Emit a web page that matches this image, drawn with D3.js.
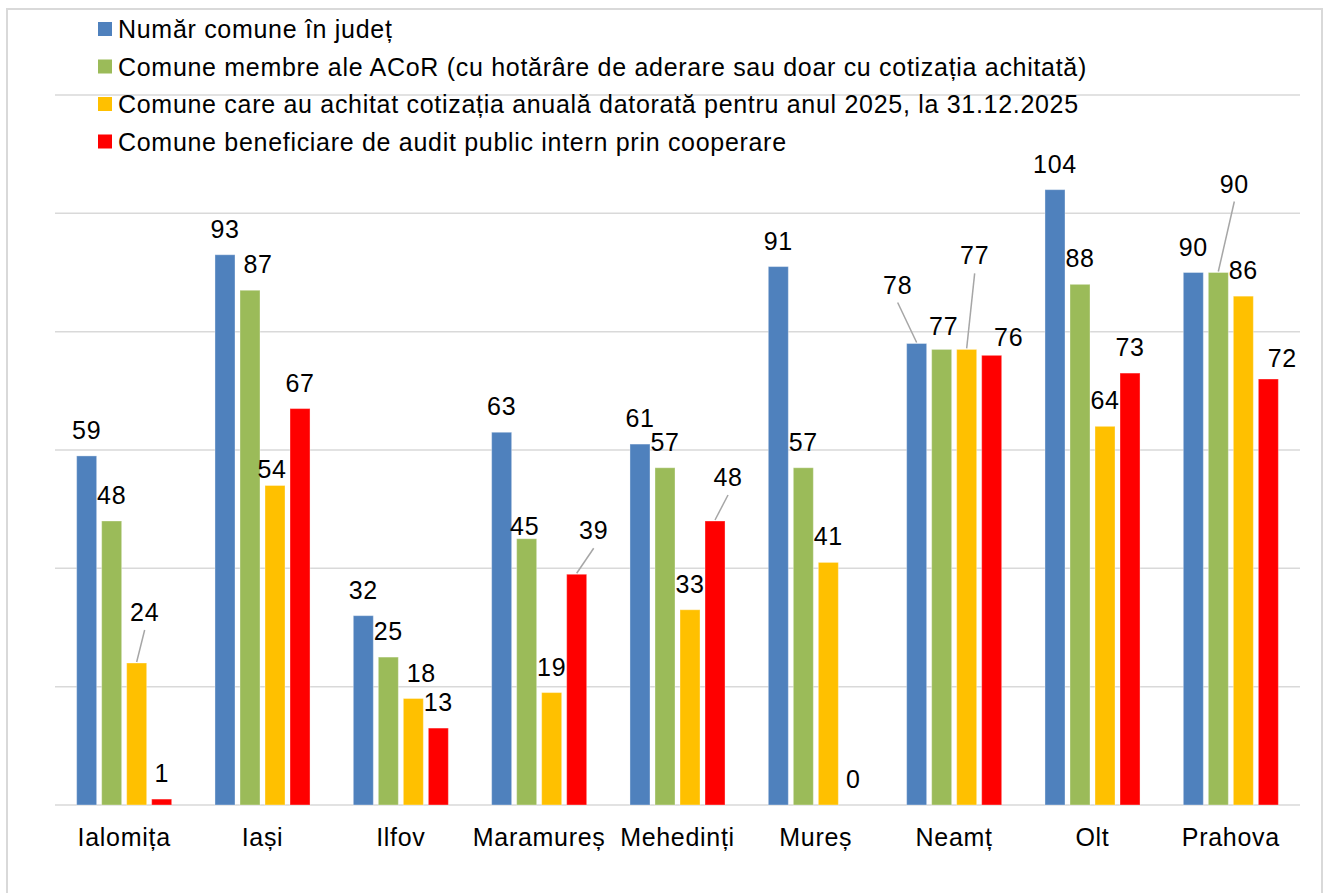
<!DOCTYPE html>
<html>
<head>
<meta charset="utf-8">
<script src="https://cdn.jsdelivr.net/npm/d3@7"></script>
<style>
  body { margin: 0; background: #fff; }
  svg { display: block; font-family: 'Liberation Sans', Arial, sans-serif; }
  svg text { letter-spacing: 0.7px; }
</style>
</head>
<body>
<div id="chart"></div>
<script>
const judete = ['Ialomița', 'Iași', 'Ilfov', 'Maramureș', 'Mehedinți', 'Mureș', 'Neamț', 'Olt', 'Prahova']

const seriesNames = [
  'Număr comune în județ',
  'Comune membre ale ACoR (cu hotărâre de aderare sau doar cu cotizația achitată)',
  'Comune care au achitat cotizația anuală datorată pentru anul 2025, la 31.12.2025',
  'Comune beneficiare de audit public intern prin cooperare'
]

const numarComune = [59, 93, 32, 63, 61, 91, 78, 104, 90]
const membreAcor = [48, 87, 25, 45, 57, 57, 77, 88, 90]
const cotizatieAchitata = [24, 54, 18, 19, 33, 41, 77, 64, 86]
const auditCooperare = [1, 67, 13, 39, 48, 0, 76, 73, 72]

const yTicks = [0, 20, 40, 60, 80, 100, 120]

const colors = ['#4f81bd', '#9bbb59', '#ffc000', '#ff0000']

// manual label nudges (dx, dy, leader line) keyed by "judet|series index"
const labelNudge = {
  'Ialomița|2': [8, -25, true],
  'Iași|1': [8, 0],
  'Iași|2': [-3, 9],
  'Ilfov|2': [8, 0],
  'Maramureș|1': [-2, 13],
  'Maramureș|3': [17, -18, true],
  'Mehedinți|3': [13, -18, true],
  'Neamț|0': [-19, -33, true],
  'Neamț|1': [2, 3],
  'Neamț|2': [8, -68, true],
  'Neamț|3': [17, 8],
  'Prahova|1': [16, -63, true],
  'Prahova|3': [14, 5]
}

const allSeries = [numarComune, membreAcor, cotizatieAchitata, auditCooperare]

const width = 1329
const height = 893
const plot = {left: 55, right: 1300, top: 95, bottom: 805}

const svg = d3.select('#chart').append('svg')
  .attr('width', width)
  .attr('height', height)

// outer chart border
svg.append('rect')
  .attr('x', 7)
  .attr('y', 9)
  .attr('width', 1315)
  .attr('height', 900)
  .attr('fill', 'none')
  .attr('stroke', '#d9d9d9')
  .attr('stroke-width', 2)

const x0 = d3.scaleBand()
  .domain(judete)
  .range([plot.left, plot.right])
  .paddingInner(0.313)
  .paddingOuter(0.1565)

const x1 = d3.scaleBand()
  .domain(d3.range(seriesNames.length))
  .range([0, x0.bandwidth()])
  .paddingInner(0.2)

const y = d3.scaleLinear()
  .domain([0, 120])
  .range([plot.bottom, plot.top])

// gridlines
svg.append('g')
  .selectAll('line')
  .data(yTicks)
  .enter().append('line')
  .attr('x1', plot.left)
  .attr('x2', plot.right)
  .attr('y1', d => y(d))
  .attr('y2', d => y(d))
  .attr('stroke', '#d9d9d9')
  .attr('stroke-width', 1.5)

const rows = []
judete.forEach((j, i) => {
  allSeries.forEach((s, k) => {
    rows.push({judet: j, k: k, value: s[i]})
  })
})

svg.append('g')
  .selectAll('rect')
  .data(rows)
  .enter().append('rect')
  .attr('x', d => x0(d.judet) + x1(d.k))
  .attr('y', d => y(d.value))
  .attr('width', x1.bandwidth())
  .attr('height', d => y(0) - y(d.value))
  .attr('fill', d => colors[d.k])
  .attr('stroke', '#fff')
  .attr('stroke-opacity', 0.35)
  .attr('stroke-width', 1)

// x axis labels
svg.append('g')
  .selectAll('text')
  .data(judete)
  .enter().append('text')
  .attr('x', d => x0(d) + x0.bandwidth() / 2)
  .attr('y', 846)
  .attr('text-anchor', 'middle')
  .attr('font-size', 25)
  .attr('fill', '#000')
  .text(d => d)

// data labels
const labels = rows.map(d => {
  const n = labelNudge[d.judet + '|' + d.k] || [0, 0, false]
  const bx = x0(d.judet) + x1(d.k) + x1.bandwidth() / 2
  const by = y(d.value)
  return {value: d.value, bx: bx, by: by, lx: bx + n[0], ly: by - 26 + n[1], leader: !!n[2]}
})

svg.append('g')
  .selectAll('line')
  .data(labels.filter(d => d.leader))
  .enter().append('line')
  .attr('x1', d => d.lx)
  .attr('y1', d => d.ly + 18)
  .attr('x2', d => d.bx)
  .attr('y2', d => d.by - 1)
  .attr('stroke', '#a6a6a6')
  .attr('stroke-width', 1.5)

svg.append('g')
  .selectAll('text')
  .data(labels)
  .enter().append('text')
  .attr('x', d => d.lx)
  .attr('y', d => d.ly + 9)
  .attr('text-anchor', 'middle')
  .attr('font-size', 25)
  .attr('fill', '#000')
  .text(d => d.value)

// legend
const legend = svg.append('g')
  .selectAll('g')
  .data(seriesNames)
  .enter().append('g')
  .attr('transform', (d, i) => 'translate(98,' + (29 + i * 37.5) + ')')

legend.append('rect')
  .attr('x', 0)
  .attr('y', -7)
  .attr('width', 14)
  .attr('height', 14)
  .attr('fill', (d, i) => colors[i])

legend.append('text')
  .attr('x', 20)
  .attr('y', 9)
  .attr('font-size', 25)
  .attr('fill', '#000')
  .text(d => d)
</script>
</body>
</html>
